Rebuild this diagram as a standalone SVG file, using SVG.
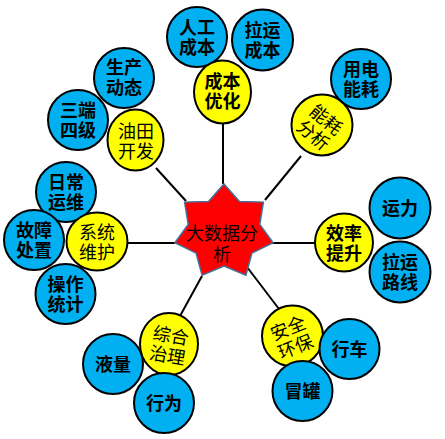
<svg xmlns="http://www.w3.org/2000/svg" width="445" height="439" viewBox="0 0 445 439">
<style>
.leaf{fill:#00b0f0;stroke:#000;stroke-width:2}
.cat{fill:#ffff00;stroke:#000;stroke-width:2}
text{font-family:"Noto Sans CJK SC","Noto Sans",sans-serif;font-size:18px;fill:#000;text-anchor:middle}
.b{font-weight:bold}
.c{stroke:#000;stroke-width:2;fill:none}
</style>
<rect width="445" height="439" fill="#fff"/>
<g id="connectors">
<line class="c" x1="223" y1="184" x2="223" y2="123"/>
<line class="c" x1="265" y1="200" x2="301" y2="156" stroke="#333"/>
<line class="c" x1="186" y1="201" x2="156" y2="168"/>
<line class="c" x1="175" y1="243" x2="127" y2="243"/>
<line class="c" x1="272" y1="243" x2="315" y2="243"/>
<line class="c" x1="202" y1="276" x2="180" y2="316" stroke="#333"/>
<line class="c" x1="247" y1="267" x2="279" y2="309"/>
</g>
<g id="center">
<polygon points="224,184 239.5,201.4 263.4,202.1 259.8,224.4 273.1,242.7 251.9,253.2 245.9,275.2 224,266 202.1,275.2 196.1,253.2 174.9,242.7 188.2,224.4 184.6,202.1 208.5,201.4" fill="#ff0000" stroke="#41719c" stroke-width="1.5"/>
<text x="222" y="240">大数据分</text>
<text x="222" y="261">析</text>
</g>
<g id="n-rengong"><circle class="leaf" cx="197" cy="37" r="30"/><text class="b" x="197" y="34">人工</text><text class="b" x="197" y="54">成本</text></g>
<g id="n-layun"><circle class="leaf" cx="262.5" cy="40" r="30.5"/><text class="b" x="262.5" y="37">拉运</text><text class="b" x="262.5" y="57">成本</text></g>
<g id="n-chengben"><ellipse class="cat" cx="222.5" cy="92" rx="28.5" ry="31.5"/><text class="b" x="222.5" y="88">成本</text><text class="b" x="222.5" y="108">优化</text></g>
<g id="n-yongdian"><circle class="leaf" cx="361" cy="79" r="30"/><text class="b" x="361" y="76">用电</text><text class="b" x="361" y="96">能耗</text></g>
<g id="n-nenghao"><circle class="cat" cx="322" cy="125" r="30.5"/><g transform="rotate(40 320 127)"><text x="320" y="124">能耗</text><text x="320" y="144">分析</text></g></g>
<g id="n-shengchan"><circle class="leaf" cx="124" cy="78" r="30"/><text class="b" x="124" y="74">生产</text><text class="b" x="124" y="94">动态</text></g>
<g id="n-sanduan"><circle class="leaf" cx="78" cy="120" r="30"/><text class="b" x="78" y="117">三端</text><text class="b" x="78" y="137">四级</text></g>
<g id="n-youtian"><ellipse class="cat" cx="135.5" cy="140" rx="28" ry="30.5"/><text x="136" y="138">油田</text><text x="136" y="158">开发</text></g>
<g id="n-richang"><circle class="leaf" cx="66" cy="192" r="30"/><text class="b" x="66" y="189">日常</text><text class="b" x="66" y="209">运维</text></g>
<g id="n-guzhang"><circle class="leaf" cx="34" cy="240" r="30"/><text class="b" x="34" y="237">故障</text><text class="b" x="34" y="257">处置</text></g>
<g id="n-caozuo"><circle class="leaf" cx="65.5" cy="294" r="30"/><text class="b" x="65.5" y="291">操作</text><text class="b" x="65.5" y="311">统计</text></g>
<g id="n-xitong"><ellipse class="cat" cx="97" cy="241.5" rx="30.5" ry="29"/><text x="97" y="239">系统</text><text x="97" y="259">维护</text></g>
<g id="n-yeliang"><circle class="leaf" cx="113" cy="364" r="30"/><text class="b" x="113" y="371">液量</text></g>
<g id="n-zonghe"><ellipse class="cat" cx="169" cy="344" rx="29" ry="31"/><g transform="rotate(10 169 346)"><text x="169" y="342">综合</text><text x="169" y="362">治理</text></g></g>
<g id="n-xingwei"><circle class="leaf" cx="164" cy="403" r="30"/><text class="b" x="164" y="410">行为</text></g>
<g id="n-xiaolv"><ellipse class="cat" cx="344" cy="242.5" rx="29" ry="29"/><text class="b" x="344" y="240">效率</text><text class="b" x="344" y="260">提升</text></g>
<g id="n-yunli"><circle class="leaf" cx="400" cy="208" r="30.5"/><text class="b" x="400" y="215">运力</text></g>
<g id="n-luxian"><circle class="leaf" cx="400" cy="272" r="30.5"/><text class="b" x="400" y="269">拉运</text><text class="b" x="400" y="289">路线</text></g>
<g id="n-anquan"><circle class="cat" cx="292.5" cy="336" r="30.5"/><g transform="rotate(-22 292 338)"><text x="292" y="334">安全</text><text x="292" y="354">环保</text></g></g>
<g id="n-xingche"><circle class="leaf" cx="349.5" cy="349" r="30"/><text class="b" x="349.5" y="356">行车</text></g>
<g id="n-maoguan"><circle class="leaf" cx="302.5" cy="391" r="30"/><text class="b" x="302.5" y="398">冒罐</text></g>
</svg>
